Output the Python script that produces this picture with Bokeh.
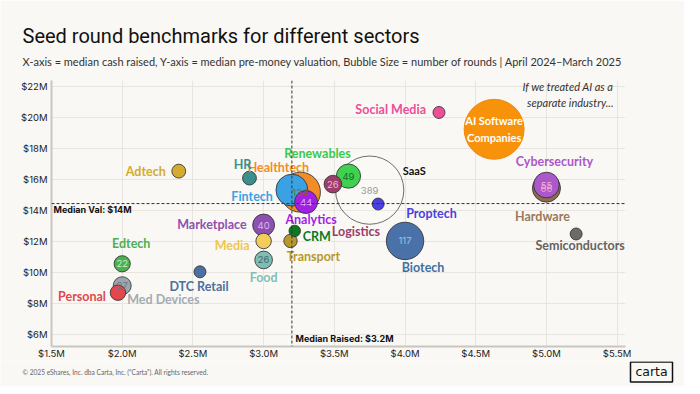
import math
from bokeh.plotting import figure
from bokeh.layouts import column, row
from bokeh.models import (ColumnDataSource, Range1d, FixedTicker, Span, Label, Title)
from bokeh.core.properties import value
from bokeh.embed import file_html
from bokeh.resources import INLINE

# ---------------- data ----------------
sectors = ["SaaS", "Healthtech", "Biotech", "Fintech", "Hardware", "Cybersecurity",
           "Renewables", "Analytics", "Marketplace", "Med Devices", "Logistics", "Food",
           "Edtech", "Personal", "Media", "Adtech", "HR", "Transport", "Proptech",
           "Social Media", "CRM", "DTC Retail", "Semiconductors"]
cash_raised = [3.75, 3.26, 4.00, 3.20, 5.00, 5.00,
               3.60, 3.30, 3.00, 2.00, 3.49, 3.00,
               2.00, 1.97, 3.00, 2.40, 2.90, 3.19, 3.81,
               4.24, 3.22, 2.55, 5.21]
valuation = [15.32, 15.19, 12.03, 15.32, 15.45, 15.65,
             16.23, 14.55, 13.06, 9.13, 15.71, 10.80,
             10.55, 8.68, 12.03, 16.55, 16.10, 12.03, 14.42,
             20.35, 12.68, 10.03, 12.48]
rounds = [389, 134, 117, 85, 66, 55,
          49, 44, 40, 27, 26, 26,
          22, 20, 20, 16, 16, 15, 12,
          12, 11, 12, 12]
show_count = ["SaaS", "Healthtech", "Biotech", "Hardware", "Cybersecurity", "Renewables",
              "Analytics", "Marketplace", "Med Devices", "Logistics", "Food", "Edtech"]

ai_name = "AI Software\nCompanies"
ai_cash = [4.63]
ai_valuation = [19.26]
ai_rounds = [300]

median_cash = 3.2
median_valuation = 14.45

x_ticks = [1.5, 2.0, 2.5, 3.0, 3.5, 4.0, 4.5, 5.0, 5.5]
x_tick_labels = ["$1.5M", "$2.0M", "$2.5M", "$3.0M", "$3.5M", "$4.0M", "$4.5M", "$5.0M", "$5.5M"]
y_ticks = [6, 8, 10, 12, 14, 16, 18, 20, 22]
y_tick_labels = ["$6M", "$8M", "$10M", "$12M", "$14M", "$16M", "$18M", "$20M", "$22M"]

title = "Seed round benchmarks for different sectors"
subtitle = ("X-axis = median cash raised, Y-axis = median pre-money valuation, "
            "Bubble Size = number of rounds  |  April 2024\u2013March 2025")
note = "If we treated AI as a\nseparate industry..."
footer = "\u00a9 2025 eShares, Inc. dba Carta, Inc. (\u201cCarta\u201d). All rights reserved."
logo = "carta"

# ---------------- styles ----------------
fill = {"SaaS": "#ffffff", "Healthtech": "#f28c28", "Biotech": "#4a72a8", "Fintech": "#3aa2e2",
        "Hardware": "#8e6b4f", "Cybersecurity": "#aa58ca", "Renewables": "#3fd152",
        "Analytics": "#a21fe6", "Marketplace": "#8e4fb2", "Med Devices": "#9ba5ad",
        "Logistics": "#9c3d6c", "Food": "#80bdb4", "Edtech": "#4caf50", "Personal": "#e2474d",
        "Media": "#f3cd5c", "Adtech": "#d4ab2e", "HR": "#3b8f8c", "Transport": "#b8982b",
        "Proptech": "#4a3fe0", "Social Media": "#ec4f97", "CRM": "#0b7a1f",
        "DTC Retail": "#4a6fa0", "Semiconductors": "#6e6a68"}
label_color = dict(fill)
label_color.update({"SaaS": "#111111", "Hardware": "#9a785c", "Med Devices": "#a3acb3",
                    "Semiconductors": "#666361", "Biotech": "#3f6ea3", "Renewables": "#38c94c",
                    "Food": "#7fbfb5", "Media": "#efc650"})
count_color = {"SaaS": "#9a9a9a", "Healthtech": "#9a5a1c", "Biotech": "#a9c2e0",
               "Hardware": "#f2a6c8", "Cybersecurity": "#f4b0d0", "Renewables": "#1d6b27",
               "Analytics": "#e2b8f7", "Marketplace": "#d8b8ea", "Med Devices": "#6e767c",
               "Logistics": "#f0b9d2", "Food": "#3d6b64", "Edtech": "#c8efc9"}
# label placement: (dx px, dy px, align)
label_layout = {"Adtech": (-13, 0, "right"), "HR": (-7, -14, "center"),
                "Healthtech": (-22, -25, "center"), "Renewables": (-31, -23, "center"),
                "Fintech": (-19, 6, "right"), "SaaS": (33, -20, "left"),
                "Logistics": (23, 47, "center"), "Analytics": (5, 17, "center"),
                "Proptech": (28, 9, "left"), "Biotech": (18, 27, "center"),
                "Marketplace": (-17, -1, "right"), "Media": (-14, 5, "right"),
                "Food": (0, 18, "center"), "CRM": (8, 6, "left"),
                "Transport": (23, 16, "center"), "Social Media": (-13, -3, "right"),
                "Cybersecurity": (8, -24, "center"), "Hardware": (-4, 28, "center"),
                "Semiconductors": (4, 12, "center"), "Edtech": (9, -20, "center"),
                "DTC Retail": (-1, 15, "center"), "Med Devices": (5, 14, "left"),
                "Personal": (-12, 4, "right")}
label_size = {"SaaS": "11px"}

BG = "#faf8f4"
W = 684
MAIN_H, FOOT_H = 361, 25
FRAME_LEFT, FRAME_TOP, FRAME_BOTTOM = 51, 80, 347   # page px
PX_PER_SQRT = 3.46  # bubble diameter px per sqrt(rounds)
LABEL_FONT = "Lato"

# ---------------- main chart ----------------
p = figure(width=W, height=MAIN_H, output_backend="svg", toolbar_location=None,
           x_range=Range1d(1.5, 5.559), y_range=Range1d(5.194, 22.42))
p.min_border_left = FRAME_LEFT
p.min_border_right = 59
p.min_border_top = FRAME_TOP
p.min_border_bottom = MAIN_H - FRAME_BOTTOM
p.background_fill_color = BG
p.border_fill_color = BG
p.outline_line_color = None

# header titles (first added = closest to the frame)
p.add_layout(Title(text=" ", text_font="Lato", text_font_size="9px", standoff=0), "above")
p.add_layout(Title(text=subtitle, align="left", offset=22 - FRAME_LEFT, text_font="Lato",
                   text_font_size="11px", text_font_style="normal", text_color="#333333",
                   standoff=0), "above")
p.add_layout(Title(text=title, align="left", offset=22 - FRAME_LEFT, text_font="Roboto",
                   text_font_size="20px", text_font_style="normal", text_color="#111111",
                   standoff=10), "above")

for ax in (p.xaxis[0], p.yaxis[0]):
    ax.axis_line_color = "#c9c6c0"
    ax.axis_line_width = 2
    ax.major_tick_line_color = None
    ax.minor_tick_line_color = None
    ax.major_tick_out = 0
    ax.major_tick_in = 0
    ax.minor_tick_out = 0
    ax.major_label_text_font = "Inter"
    ax.major_label_text_font_size = "9.5px"
    ax.major_label_text_font_style = "normal"
    ax.major_label_text_color = "#222222"
p.xaxis.ticker = FixedTicker(ticks=x_ticks)
p.yaxis.ticker = FixedTicker(ticks=y_ticks)
p.xaxis.major_label_overrides = {t: l for t, l in zip(x_ticks, x_tick_labels)}
p.yaxis.major_label_overrides = {t: l for t, l in zip(y_ticks, y_tick_labels)}
p.xaxis.major_label_standoff = 1
p.yaxis.major_label_standoff = 4
p.xgrid.grid_line_color = "#e8e5df"
p.ygrid.grid_line_color = "#e8e5df"

# median lines
p.add_layout(Span(location=median_cash, dimension="height", line_color="#333333",
                  line_width=1, line_dash="3 2"))
p.add_layout(Span(location=median_valuation, dimension="width", line_color="#333333",
                  line_width=1, line_dash="3 2"))

# bubbles, big first
order = sorted(range(len(sectors)), key=lambda i: -rounds[i])
src = ColumnDataSource(dict(
    x=[cash_raised[i] for i in order],
    y=[valuation[i] for i in order],
    size=[PX_PER_SQRT * math.sqrt(rounds[i]) for i in order],
    fill=[fill[sectors[i]] for i in order],
    alpha=[0.15 if sectors[i] == "SaaS" else 1.0 for i in order],
    line=["#555555" if sectors[i] == "SaaS" else "#333333" for i in order],
))
# AI bubble
p.scatter(x=ai_cash, y=ai_valuation, size=[PX_PER_SQRT * math.sqrt(r) for r in ai_rounds],
          fill_color="#f7920a", line_color="#f08a10", line_width=1)
p.scatter("x", "y", size="size", source=src, fill_color="fill", fill_alpha="alpha",
          line_color="line", line_width=1, line_alpha=0.85)

# counts inside bubbles
cnt = [i for i in order if sectors[i] in show_count]
p.text(x=[cash_raised[i] for i in cnt], y=[valuation[i] for i in cnt],
       text=[str(rounds[i]) for i in cnt],
       text_color=[count_color[sectors[i]] for i in cnt],
       text_font=value("Inter"), text_font_size="9.5px",
       text_align="center", text_baseline="middle")

# sector labels
for align in ("left", "center", "right"):
    idx = [i for i in range(len(sectors)) if label_layout[sectors[i]][2] == align]
    lsrc = ColumnDataSource(dict(
        x=[cash_raised[i] for i in idx], y=[valuation[i] for i in idx],
        text=[sectors[i] for i in idx],
        dx=[label_layout[sectors[i]][0] for i in idx],
        dy=[label_layout[sectors[i]][1] for i in idx],
        color=[label_color[sectors[i]] for i in idx],
        size=[label_size.get(sectors[i], "12.5px") for i in idx],
    ))
    p.text(x="x", y="y", text="text", x_offset="dx", y_offset="dy", text_color="color",
           text_font_size="size", source=lsrc,
           text_font=value(LABEL_FONT), text_font_style="bold",
           text_align=align, text_baseline="middle")

# AI label
p.text(x=ai_cash, y=ai_valuation, text=[ai_name], text_color="white",
       text_font=value(LABEL_FONT), text_font_style="bold", text_font_size="11px",
       text_align="center", text_baseline="middle", text_line_height=1.3)


def page(px, py):
    # page pixel -> screen coords relative to the plot frame (x from left, y up from bottom)
    return px - FRAME_LEFT, FRAME_BOTTOM - py


def add_label(text, px, py, size, color="#111111", font="Inter", style="normal",
              align="left", baseline="middle", **kw):
    sx, sy = page(px, py)
    p.add_layout(Label(x=sx, y=sy, x_units="screen", y_units="screen", text=text,
                       text_font=font, text_font_size=size, text_color=color,
                       text_font_style=style, text_align=align, text_baseline=baseline, **kw))


add_label(note, 613, 95, "11px", color="#333333", font="Lato", style="italic",
          align="right", text_line_height=1.2)
add_label("Median Val: $14M", 53, 210, "9px", color="#111111", font="Inter", style="bold")
add_label("Median Raised: $3.2M", 295, 339, "9px", color="#111111", font="Inter", style="bold")

# ---------------- footer strip ----------------
foot = figure(width=W, height=FOOT_H, output_backend="svg", toolbar_location=None,
              x_range=Range1d(0, W), y_range=Range1d(FOOT_H, 0),
              x_axis_type=None, y_axis_type=None, min_border=0)
foot.background_fill_color = BG
foot.border_fill_color = BG
foot.outline_line_color = None
foot.grid.visible = False
FOOT_TOP = MAIN_H
foot.text(x=[22], y=[371 - FOOT_TOP], text=[footer], text_font=value("Lato"),
          text_font_size="6.6px", text_color="#666666", text_baseline="middle")
foot.rect(x=[651], y=[371.5 - FOOT_TOP], width=42, height=20, fill_color=None,
          line_color="#111111", line_width=1.5)
foot.text(x=[651], y=[371 - FOOT_TOP], text=[logo], text_font=value("DejaVu Sans"),
          text_font_size="12.5px", text_color="#111111", text_align="center",
          text_baseline="middle")

layout = column(row(p), foot, spacing=0)
open("out.html", "w").write(file_html(layout, INLINE))
